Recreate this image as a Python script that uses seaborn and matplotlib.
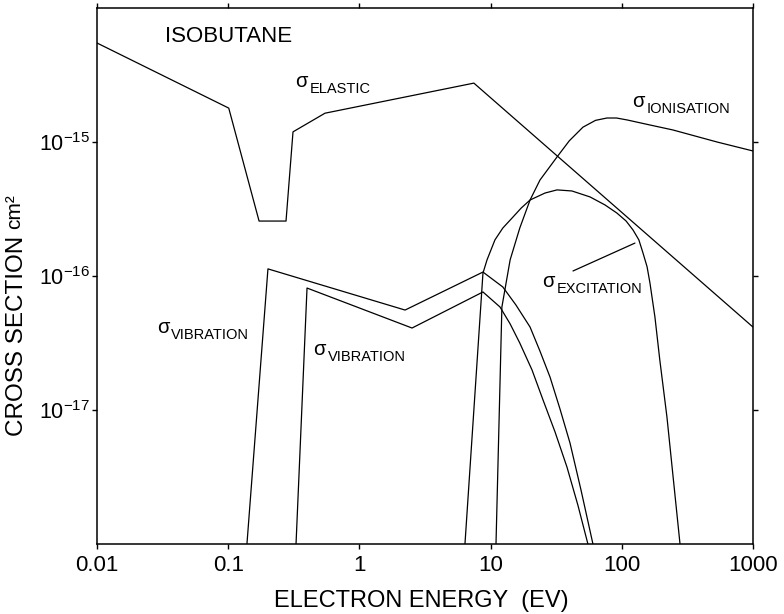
import matplotlib
matplotlib.use("Agg")
import pandas as pd
import matplotlib.pyplot as plt
import seaborn as sns

# Cross sections (energy in eV, sigma in cm^2)
elastic_e = [0.01, 0.101, 0.172, 0.276, 0.312, 0.547, 7.46, 1000]
elastic_s = [5.48e-15, 1.79e-15, 2.57e-16, 2.57e-16, 1.19e-15, 1.64e-15, 2.75e-15, 4.16e-17]

ionis_e = [11.0, 12.2, 14.1, 16.7, 20.0, 23.8, 32.1, 39.8, 50.6, 63.1, 77.1, 91.2,
           110, 158, 245, 532, 1000]
ionis_s = [1.0e-18, 5.87e-17, 1.32e-16, 2.28e-16, 3.69e-16, 5.20e-16, 7.73e-16, 1.02e-15,
           1.29e-15, 1.45e-15, 1.51e-15, 1.51e-15, 1.46e-15, 1.35e-15, 1.23e-15,
           1.0e-15, 8.57e-16]

excit_e = [6.38, 8.75, 9.40, 10.8, 12.4, 14.8, 17.1, 20.0, 26.0, 32.1, 41.7, 57.3,
           74.5, 91.8, 108, 122, 135, 145, 156, 164, 179, 195, 221, 278]
excit_s = [1.0e-18, 1.05e-16, 1.32e-16, 1.86e-16, 2.28e-16, 2.75e-16, 3.21e-16, 3.69e-16,
           4.16e-16, 4.39e-16, 4.31e-16, 3.89e-16, 3.39e-16, 2.95e-16, 2.57e-16, 2.20e-16,
           1.86e-16, 1.49e-16, 1.17e-16, 8.87e-17, 4.94e-17, 2.36e-17, 8.87e-18, 1.0e-18]

vib1_e = [0.139, 0.201, 2.23, 8.75, 12.4, 15.6, 20.0, 23.8, 28.4, 33.8, 40.3, 48.9, 60.3]
vib1_s = [1.0e-18, 1.13e-16, 5.57e-17, 1.07e-16, 8.28e-17, 6.08e-17, 4.16e-17, 2.75e-17,
          1.76e-17, 1.02e-17, 5.68e-18, 2.53e-18, 1.0e-18]

vib2_e = [0.329, 0.399, 2.52, 8.75, 11.8, 14.1, 16.7, 20.7, 25.1, 31.0, 38.2, 46.3, 55.2]
vib2_s = [1.0e-18, 8.13e-17, 4.09e-17, 7.60e-17, 5.87e-17, 4.39e-17, 3.16e-17, 1.99e-17,
          1.19e-17, 6.86e-18, 3.76e-18, 1.95e-18, 1.0e-18]

x_ticks = [0.01, 0.1, 1, 10, 100, 1000]
x_tick_labels = ["0.01", "0.1", "1", "10", "100", "1000"]
y_ticks = [1e-17, 1e-16, 1e-15]

sns.set_theme(style="ticks", rc={
    "axes.edgecolor": "black", "text.color": "black", "axes.labelcolor": "black",
    "xtick.color": "black", "ytick.color": "black",
})
plt.rcParams["font.family"] = ["Liberation Sans", "DejaVu Sans"]

fig = plt.figure(figsize=(7.84, 6.14), dpi=100)
ax = fig.add_axes([0.1237, 0.114, 0.8367, 0.873])

curves = [(elastic_e, elastic_s), (ionis_e, ionis_s), (excit_e, excit_s),
          (vib1_e, vib1_s), (vib2_e, vib2_s)]
for e, s in curves:
    df = pd.DataFrame({"energy": e, "sigma": s})
    sns.lineplot(data=df, x="energy", y="sigma", sort=False, estimator=None,
                 color="black", linewidth=0.9, ax=ax)

ax.set_xscale("log")
ax.set_yscale("log")
ax.set_xlim(0.01, 1000)
ax.set_ylim(1e-18, 1e-14)
ax.set_xticks(x_ticks, x_tick_labels)
ax.set_yticks(y_ticks)
ax.minorticks_off()
ax.tick_params(which="major", direction="out", length=3.6, width=1.0,
               top=True, right=True, labeltop=False, labelright=False)
ax.tick_params(axis="x", labelsize=16, pad=4)
ax.tick_params(axis="y", labelsize=15.5, pad=1.5)
for sp in ax.spines.values():
    sp.set_linewidth(1.1)

ax.set_xlabel("ELECTRON ENERGY  (EV)", fontsize=17, va="center")
ax.xaxis.set_label_coords(0.494, -0.107)
ax.set_ylabel("CROSS SECTION", fontsize=17.5, va="center")
ax.yaxis.set_label_coords(-0.122, 0.388)
ax.text(-0.125, 0.621, "cm²", transform=ax.transAxes, rotation=90,
        ha="center", va="center", fontsize=15)

ax.text(0.033, 5.57e-15, "ISOBUTANE", fontsize=16, ha="left", va="baseline")


def sigma_label(x, y, sub):
    ax.text(x, y, "σ", fontsize=14.5, ha="left", va="baseline")
    ax.annotate(sub, xy=(x, y), xytext=(10.5, -4.5), textcoords="offset points",
                fontsize=10.5, ha="left", va="baseline")


sigma_label(0.323, 2.57e-15, "ELASTIC")
sigma_label(120, 1.82e-15, "IONISATION")
sigma_label(24.7, 8.28e-17, "EXCITATION")
sigma_label(0.0286, 3.76e-17, "VIBRATION")
sigma_label(0.443, 2.57e-17, "VIBRATION")

# leader line from the excitation label to its curve
ax.annotate("", xy=(126, 1.76e-16), xytext=(42.5, 1.09e-16),
            arrowprops=dict(arrowstyle="-", lw=0.9, color="black",
                            shrinkA=0, shrinkB=0))

fig.savefig("out.png", dpi=100)
